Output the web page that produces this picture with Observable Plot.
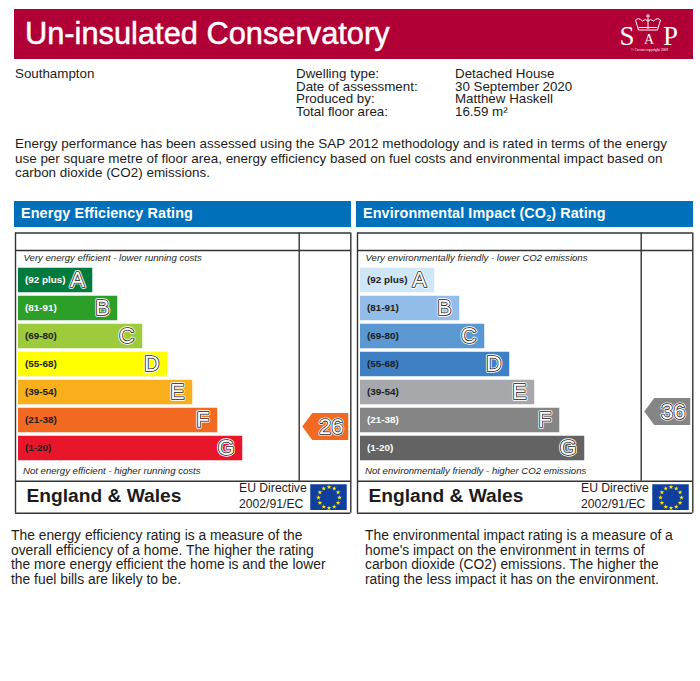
<!DOCTYPE html>
<html><head><meta charset="utf-8">
<script src="https://cdn.jsdelivr.net/npm/d3@7"></script>
<script src="https://cdn.jsdelivr.net/npm/@observablehq/plot@0.6"></script>
<style>
html,body{margin:0;padding:0;background:#fff}
body{width:700px;height:681px;position:relative;overflow:hidden;font-family:"Liberation Sans",Arial,sans-serif;color:#1c1c1c}
.a{position:absolute;white-space:nowrap}
#banner{left:14px;top:9px;width:679px;height:50px;background:#b10035}
#title{left:25px;top:15px;font-size:30.8px;line-height:37px;color:#fff;-webkit-text-stroke:.5px #fff}
.meta{font-size:13.35px;line-height:12.6px}
.body{font-size:13.45px;line-height:14.6px}
.foot{font-size:13.85px;line-height:14.6px}
.hd{top:201px;height:26px;line-height:24px;background:#0070ba;color:#fff;font-weight:bold;font-size:14.4px;letter-spacing:.1px;box-sizing:border-box;padding-left:7px}
.hd sub{font-size:9px;line-height:0;vertical-align:-3px}
.panel{position:absolute;top:232px}
.panel svg{display:block;background:transparent;overflow:visible}
</style></head><body>
<div class="a" id="banner"></div>
<div class="a" id="title">Un-insulated Conservatory</div>
<svg class="a" style="left:610px;top:9px" width="80" height="50" font-family="Liberation Serif" fill="#fff">
 <g fill="none" stroke="#fff" stroke-width="1" transform="translate(10.500,0)">
  <path d="M18 21 L15 11 Q18 8 22 12 Q25 9 27.500 12 Q30 9 33 12 Q37 8 40 11 L37 21 Z"/>
  <path d="M27.500 5 V20 M25.500 7 H29.500"/><path d="M18 18.500 H37"/>
 </g>
 <text x="9.500" y="36" font-size="27">S</text><text x="34" y="35" font-size="14">A</text><text x="53" y="36" font-size="27">P</text>
 <text x="39.500" y="41.500" font-size="3.700" text-anchor="middle">© Crown copyright 2009</text>
</svg>
<div class="a meta" style="left:15px;top:68px">Southampton</div>
<div class="a meta" style="left:296px;top:68px">Dwelling type:<br>Date of assessment:<br>Produced by:<br>Total floor area:</div>
<div class="a meta" style="left:455px;top:68px">Detached House<br>30 September 2020<br>Matthew Haskell<br>16.59 m²</div>
<div class="a body" style="left:15px;top:137px">Energy performance has been assessed using the SAP 2012 methodology and is rated in terms of the energy<br>use per square metre of floor area, energy efficiency based on fuel costs and environmental impact based on<br>carbon dioxide (CO2) emissions.</div>
<div class="a hd" style="left:14px;width:337px">Energy Efficiency Rating</div>
<div class="a hd" style="left:356px;width:337px">Environmental Impact (CO<sub>2</sub>) Rating</div>
<div class="panel" id="p1" style="left:13px"></div>
<div class="panel" id="p2" style="left:355px"></div>
<div class="a foot" style="left:11px;top:528px">The energy efficiency rating is a measure of the<br>overall efficiency of a home. The higher the rating<br>the more energy efficient the home is and the lower<br>the fuel bills are likely to be.</div>
<div class="a foot" style="left:365px;top:528px">The environmental impact rating is a measure of a<br>home's impact on the environment in terms of<br>carbon dioxide (CO2) emissions. The higher the<br>rating the less impact it has on the environment.</div>
<script>
const bands = ["A","B","C","D","E","F","G"];
const ranges = ["(92 plus)","(81-91)","(69-80)","(55-68)","(39-54)","(21-38)","(1-20)"];
const bandLengths = [3,4,5,6,7,8,9];
const energyColors = ["#007a3d","#2c9f29","#9dcb3b","#ffff00","#f9ae1b","#f26a21","#e9152a"];
const energyInk = ["#fff","#fff","#1c1c1c","#1c1c1c","#1c1c1c","#1c1c1c","#1c1c1c"];
const co2Colors = ["#cfe6f7","#92bde8","#5b97d1","#3f80c5","#a6a8ab","#858585","#636363"];
const co2Ink = ["#1c1c1c","#1c1c1c","#1c1c1c","#1c1c1c","#1c1c1c","#fff","#fff"];
const energyRating = 26, energyArrow = "#f26a21";
const co2Rating = 36, co2Arrow = "#858585";
const starClock = [0,1,2,3,4,5,6,7,8,9,10,11];

// rating value to chart row on the scale's vertical axis
const ratingRow = r => 6.607 - 0.05357 * r;
const arrowSymbol = {draw(c){c.moveTo(0,-13.5);c.lineTo(-36,-13.5);c.lineTo(-46,0);c.lineTo(-36,13.5);c.lineTo(0,13.5);c.closePath();}};

function panel(id, colors, ink, rating, arrowFill, top, bottom){
  const rows = bands.map((b,i)=>({band:b,row:i,range:ranges[i],len:bandLengths[i],fill:colors[i],ink:ink[i]}));
  const L=-0.12,R=13.292,D=11.228,T=-1.696,H=-1.071,B=7.17,E=8.31;
  const letter = {x:"len",y:"row",text:"band",textAnchor:"end",dx:-9,fontSize:21.5,fontFamily:"Liberation Sans"};
  const num = {x:13.0,y:ratingRow(rating),textAnchor:"end",fontSize:22,fontFamily:"Liberation Sans"};
  const fig = Plot.plot({
    width:340,height:282,margin:0,
    style:{fontFamily:"Liberation Sans",background:"transparent"},
    x:{domain:[-0.2,13.4],range:[0,340],axis:null},
    y:{domain:[-1.714,8.357],range:[0,282],axis:null},
    marks:[
      Plot.rectY(rows,{x1:0,x2:d=>d.len-0.03,y1:d=>d.row-.4375,y2:d=>d.row+.4375,fill:"fill"}),
      Plot.text(rows,{x:0.26,y:"row",text:"range",fill:"ink",textAnchor:"start",fontWeight:"bold",fontSize:9.9,dy:-0.5}),
      Plot.text(rows,{...letter,fill:"#fff",stroke:"#fff",strokeWidth:3.4,paintOrder:"stroke"}),
      Plot.text(rows,{...letter,fill:"#fff",stroke:"#222",strokeWidth:1.7,paintOrder:"stroke"}),
      Plot.ruleX([L,R],{y1:T,y2:E,stroke:"#333",strokeWidth:1.4}),
      Plot.ruleX([D],{y1:T,y2:B,stroke:"#333",strokeWidth:1.4}),
      Plot.ruleY([T,H,B,E],{x1:L,x2:R,stroke:"#333",strokeWidth:1.4}),
      Plot.text([top],{x:0.2,y:-0.79,text:d=>d,textAnchor:"start",fontStyle:"italic",fontSize:9.6,fill:"#1c1c1c"}),
      Plot.text([bottom],{x:0.18,y:6.79,text:d=>d,textAnchor:"start",fontStyle:"italic",fontSize:9.6,fill:"#1c1c1c"}),
      Plot.dot([rating],{x:13.19,y:ratingRow,symbol:arrowSymbol,fill:arrowFill,r:1}),
      Plot.text([rating],{...num,text:d=>d,fill:"#fff",stroke:"#fff",strokeWidth:3.2,paintOrder:"stroke"}),
      Plot.text([rating],{...num,text:d=>d,fill:"#fff",stroke:"#222",strokeWidth:1.6,paintOrder:"stroke"}),
      Plot.text(["England & Wales"],{x:0.32,y:7.7,text:d=>d,textAnchor:"start",fontWeight:"bold",fontSize:19.2,fill:"#1c1c1c"}),
      Plot.text(["EU Directive"],{x:8.82,y:7.43,text:d=>d,textAnchor:"start",fontSize:12.2,fill:"#1c1c1c"}),
      Plot.text(["2002/91/EC"],{x:8.82,y:7.97,text:d=>d,textAnchor:"start",fontSize:12.2,fill:"#1c1c1c"}),
      Plot.rect([0],{x1:11.69,x2:13.15,y1:7.295,y2:8.214,fill:"#0f3f9e"}),
      Plot.dot(starClock,{x:d=>12.42+0.42*Math.sin(d*Math.PI/6),y:d=>7.755-0.375*Math.cos(d*Math.PI/6),symbol:"star",r:1.5,fill:"#ffe600"})
    ]
  });
  document.getElementById(id).appendChild(fig);
}
panel("p1",energyColors,energyInk,energyRating,energyArrow,"Very energy efficient - lower running costs","Not energy efficient - higher running costs");
panel("p2",co2Colors,co2Ink,co2Rating,co2Arrow,"Very environmentally friendly - lower CO2 emissions","Not environmentally friendly - higher CO2 emissions");
</script>
</body></html>
